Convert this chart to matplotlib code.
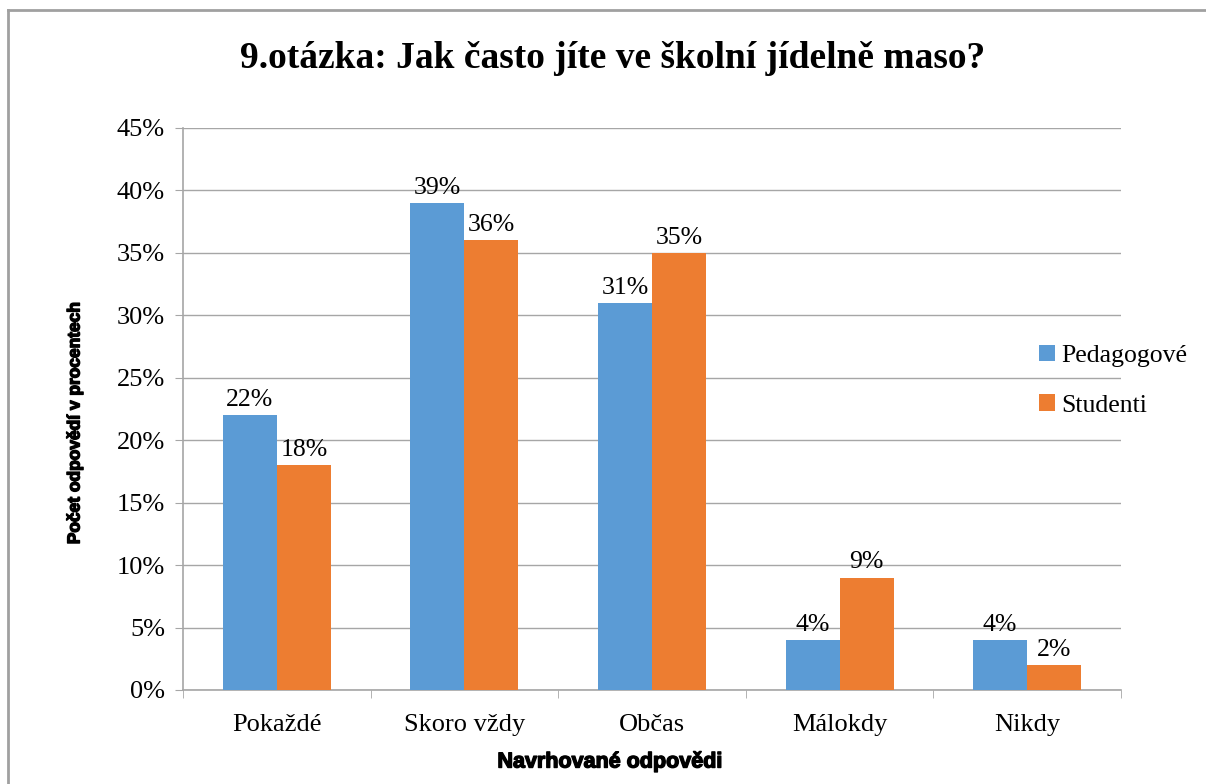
import numpy as np
import matplotlib
matplotlib.use("Agg")
import matplotlib.pyplot as plt
import matplotlib.patheffects as pe
from matplotlib.lines import Line2D
from matplotlib.ticker import PercentFormatter

# data
odpovedi = ["Pokaždé", "Skoro vždy", "Občas", "Málokdy", "Nikdy"]
pedagogove = [22, 39, 31, 4, 4]
studenti = [18, 36, 35, 9, 2]
serie = ["Pedagogové", "Studenti"]
barvy = ["#5b9bd5", "#ed7d31"]

plt.rcParams['font.family'] = ['Liberation Serif', 'DejaVu Serif']

fig = plt.figure(figsize=(12.06, 7.84), dpi=100)
ax = fig.add_axes([183/1206, 1 - 690/784, (1121-183)/1206, (690-128)/784])

x = np.arange(len(odpovedi))
w = 0.288
b1 = ax.bar(x - w/2, pedagogove, w, color=barvy[0], label=serie[0], zorder=3)
b2 = ax.bar(x + w/2, studenti, w, color=barvy[1], label=serie[1], zorder=3)

for bars in (b1, b2):
    for r in bars:
        v = r.get_height()
        ax.annotate(f"{v:.0f}%", (r.get_x() + r.get_width()/2, v),
                    xytext=(0, 3), textcoords="offset points",
                    ha="center", va="bottom", fontsize=18.5, color="black")

ax.set_xlim(-0.5, len(odpovedi) - 0.5)
ax.set_ylim(0, 45)
ax.set_yticks(np.arange(0, 46, 5))
ax.yaxis.set_major_formatter(PercentFormatter(decimals=0))
ax.set_xticks(x)
ax.set_xticklabels(odpovedi)
ax.set_xticks(np.arange(-0.5, len(odpovedi), 1), minor=True)

grey = "#a6a6a6"
ax.grid(axis="y", color=grey, linewidth=1.0, zorder=0)
for s in ("top", "right"):
    ax.spines[s].set_visible(False)
for s in ("left", "bottom"):
    ax.spines[s].set_color(grey)
    ax.spines[s].set_linewidth(1.2)

ax.tick_params(axis="y", which="major", length=6, color=grey, labelsize=19, pad=7)
ax.tick_params(axis="x", which="major", length=0, labelsize=19, pad=17)
ax.tick_params(axis="x", which="minor", length=6, color=grey)

# axis titles placed like in the original (not centred on the axes)
heavy = [pe.withStroke(linewidth=1.0, foreground="black")]
fig.text(610/1206, 1 - 762/784, "Navrhované odpovědi", fontsize=15.5,
         fontweight="bold", family=["Liberation Sans"], ha="center", va="center",
         path_effects=heavy)
fig.text(75/1206, 1 - 423/784, "Počet odpovědí v procentech", fontsize=12.5,
         fontweight="bold", family=["Liberation Sans"], ha="center", va="center",
         rotation=90, path_effects=heavy)

fig.text(0.508, 0.925, "9.otázka: Jak často jíte ve školní jídelně maso?",
         ha="center", va="center", fontsize=27, fontweight="bold")

leg = fig.legend(loc="upper left", bbox_to_anchor=(1016/1206, 1 - 322/784),
                 frameon=False, fontsize=18.5, handlelength=0.6, handleheight=0.6,
                 handletextpad=0.25, labelspacing=1.05)

# frame around the chart area (top and left visible)
fig.add_artist(Line2D([8/1206, 8/1206], [0, 1 - 10/784], transform=fig.transFigure,
                      color="#a0a0a0", linewidth=2))
fig.add_artist(Line2D([8/1206, 1], [1 - 10/784, 1 - 10/784], transform=fig.transFigure,
                      color="#a0a0a0", linewidth=2))

fig.savefig("out.png", dpi=100)
